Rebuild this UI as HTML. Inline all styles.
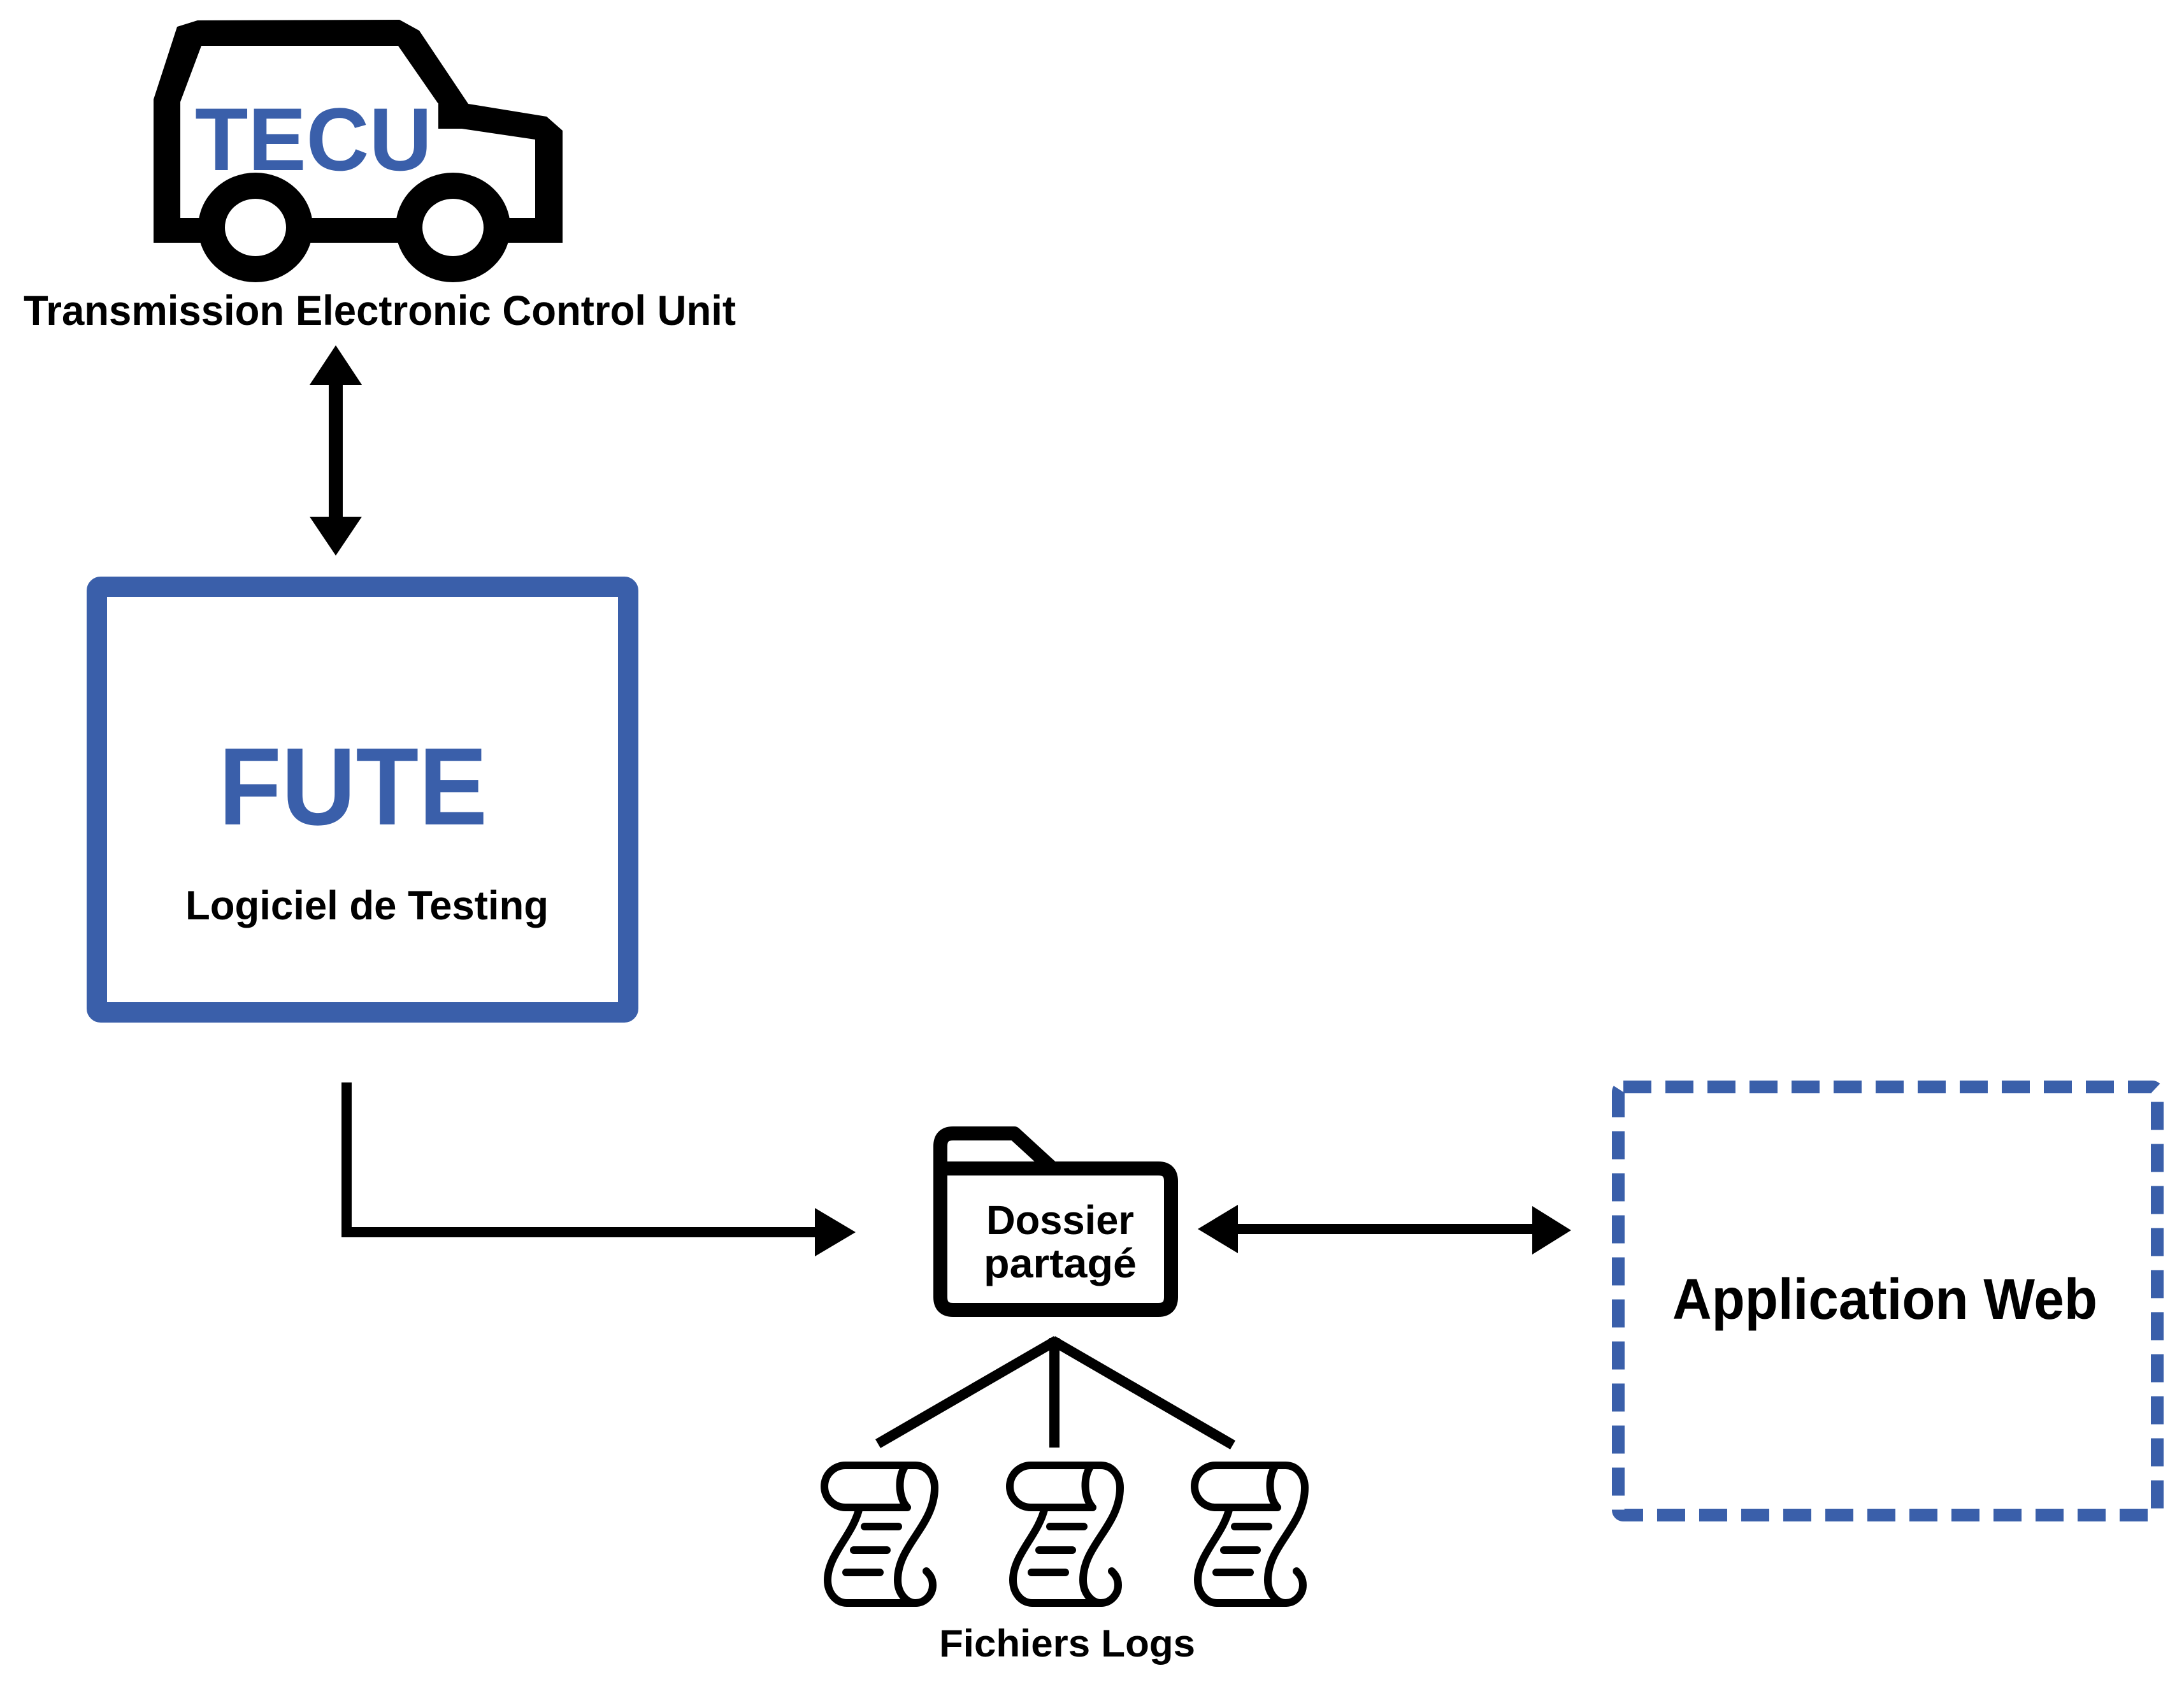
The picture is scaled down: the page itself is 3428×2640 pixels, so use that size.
<!DOCTYPE html>
<html><head><meta charset="utf-8"><style>
html,body{margin:0;padding:0;background:#fff;}
svg{display:block;}
text{font-family:"Liberation Sans",sans-serif;font-weight:bold;}
</style></head><body>
<svg width="3428" height="2640" viewBox="0 0 3428 2640" xmlns="http://www.w3.org/2000/svg">
<rect width="3428" height="2640" fill="#fff"/>
<!-- Truck -->
<polygon points="241,381 241,156 278,42 310,32 627,31 658,48 735,163 858,183 883,205 883,381" fill="#000"/>
<polygon points="283,342 283,160 316,72 625,72 688,163 688,202 725,202 840,219 840,342" fill="#fff"/>
<rect x="285" y="162" width="403" height="40" fill="#fff"/>
<ellipse cx="401" cy="357" rx="90" ry="86" fill="#000"/>
<ellipse cx="711" cy="357" rx="90" ry="86" fill="#000"/>
<ellipse cx="401" cy="357" rx="48" ry="45" fill="#fff"/>
<ellipse cx="711" cy="357" rx="48" ry="45" fill="#fff"/>
<text x="306" y="267" font-size="140" fill="#3a5faa" textLength="372" lengthAdjust="spacingAndGlyphs">TECU</text>
<text x="37" y="510" font-size="66" fill="#000" textLength="1118" lengthAdjust="spacingAndGlyphs">Transmission Electronic Control Unit</text>
<!-- vertical double arrow -->
<rect x="516" y="600" width="22" height="215" fill="#000"/>
<polygon points="527,542 486,604 568,604" fill="#000"/>
<polygon points="527,872 486,811 568,811" fill="#000"/>
<!-- FUTE box -->
<rect x="152" y="921" width="834" height="668" rx="6" fill="#fff" stroke="#3a5faa" stroke-width="32"/>
<text x="343" y="1294" font-size="173" fill="#3a5faa" textLength="422" lengthAdjust="spacingAndGlyphs">FUTE</text>
<text x="291" y="1443" font-size="64" fill="#000" textLength="570" lengthAdjust="spacingAndGlyphs">Logiciel de Testing</text>
<!-- elbow arrow -->
<polyline points="544,1699 544,1934 1285,1934" fill="none" stroke="#000" stroke-width="16"/>
<polygon points="1279,1896 1343,1934 1279,1972" fill="#000"/>
<!-- folder -->
<path d="M1476,2036 L1476,1799 Q1476,1779 1496,1779 L1592,1779 L1652,1834 L1818,1834 Q1838,1834 1838,1854 L1838,2036 Q1838,2056 1818,2056 L1496,2056 Q1476,2056 1476,2036 Z M1476,1834 L1652,1834" fill="none" stroke="#000" stroke-width="22" stroke-linejoin="round"/>
<text x="1664" y="1937" font-size="64" fill="#000" text-anchor="middle" textLength="232" lengthAdjust="spacingAndGlyphs">Dossier</text>
<text x="1664" y="2005" font-size="64" fill="#000" text-anchor="middle" textLength="240" lengthAdjust="spacingAndGlyphs">partagé</text>
<!-- double arrow right -->
<line x1="1935" y1="1929" x2="2410" y2="1929" stroke="#000" stroke-width="16"/>
<polygon points="1880,1929 1943,1891 1943,1967" fill="#000"/>
<polygon points="2466,1931 2405,1893 2405,1969" fill="#000"/>
<!-- tree lines -->
<g stroke="#000" stroke-width="16" fill="none">
<line x1="1378" y1="2266" x2="1658" y2="2104"/>
<line x1="1655" y1="2100" x2="1655" y2="2272"/>
<line x1="1935" y1="2268" x2="1652" y2="2104"/>
</g>
<!-- scrolls -->
<defs>
<g id="scroll" fill="none" stroke="#000" stroke-width="12" stroke-linecap="round" stroke-linejoin="round">
<path d="M128,66 L33,66 A33,33 0 0 1 33,0 L143,0 C160,0 173,15 173,35 C173,95 115,125 115,180 C115,200 128,216 143,216 C158,216 170,203 170,188 C170,176 164,170 160,166"/>
<path d="M128,0 C115,15 115,50 130,66"/>
<path d="M55,66 C45,110 5,140 5,180 C5,200 18,216 35,216 L143,216"/>
<line x1="63" y1="96" x2="116" y2="96"/>
<line x1="46" y1="133" x2="98" y2="133"/>
<line x1="34" y1="168" x2="87" y2="168"/>
</g>
</defs>
<use href="#scroll" x="1294" y="2300"/>
<use href="#scroll" x="1585" y="2300"/>
<use href="#scroll" x="1875" y="2300"/>
<text x="1474" y="2600" font-size="60" fill="#000" textLength="402" lengthAdjust="spacingAndGlyphs">Fichiers Logs</text>
<!-- Application Web -->
<rect x="2540" y="1706" width="846" height="672" rx="8" fill="#fff" stroke="#3a5faa" stroke-width="20" stroke-dasharray="44 22"/>
<text x="2625" y="2070" font-size="90" fill="#000" textLength="667" lengthAdjust="spacingAndGlyphs">Application Web</text>
</svg>
</body></html>
